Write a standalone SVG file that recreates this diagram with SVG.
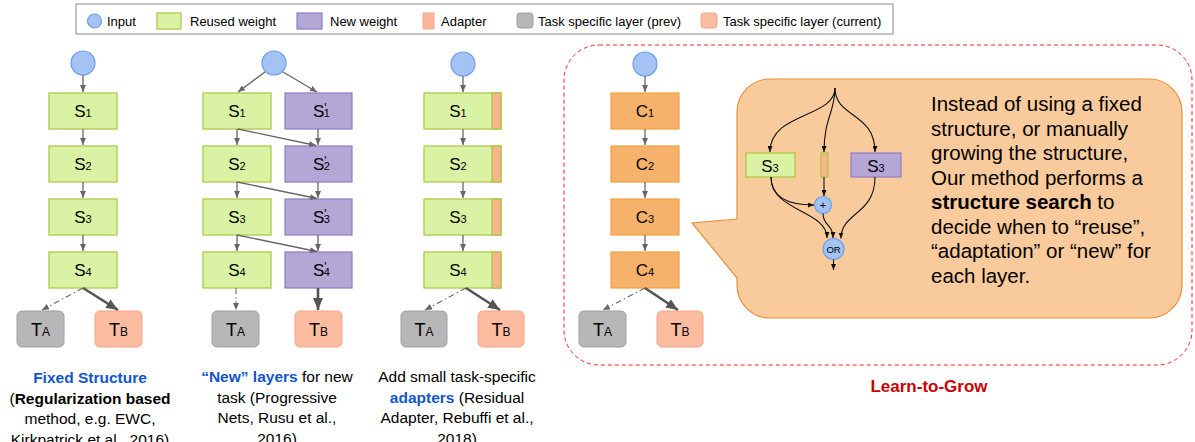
<svg xmlns="http://www.w3.org/2000/svg" width="1195" height="442" viewBox="0 0 1195 442">
  <defs>
    <style>
      text { font-family: "Liberation Sans", Arial, sans-serif; fill: #000; }
      .lg { font-size: 13px; }
      .lbl { font-size: 17px; text-anchor: middle; }
      .sub { font-size: 11px; }
      .tl { font-size: 18px; text-anchor: middle; }
      .tsub { font-size: 12px; }
      .cap { font-size: 15.5px; text-anchor: middle; }
      .blue { fill: #1155cc; font-weight: bold; }
      .b { font-weight: bold; }
      .inp { fill: #a4c2f4; stroke: #6d9eeb; stroke-width: 1.2; }
      .reuse { fill: #d9f2a3; stroke: #a8c63d; stroke-width: 1.2; }
      .neww { fill: #b4a7d6; stroke: #8e7cc3; stroke-width: 1.2; }
      .adp { fill: #f9b48e; stroke: #a8c63d; stroke-width: 1.2; }
      .prev { fill: #b7b7b7; stroke: #a0a0a0; stroke-width: 1; }
      .cur { fill: #fcbca0; stroke: #f2a48c; stroke-width: 1; }
      .grow { fill: #f6b26b; stroke: #f1a23c; stroke-width: 1.2; }
      .ar { fill: none; stroke: #666; stroke-width: 1.3; marker-end: url(#ah); }
      .ard { fill: none; stroke: #666; stroke-width: 1.1; stroke-dasharray: 6 3 1.5 3; marker-end: url(#ah); }
      .art { fill: none; stroke: #555; stroke-width: 2.6; marker-end: url(#ahb); }
      .ark { fill: none; stroke: #111; stroke-width: 1.1; marker-end: url(#ahk); }
    </style>
    <marker id="ah" markerUnits="userSpaceOnUse" markerWidth="7" markerHeight="6" refX="7" refY="3" orient="auto">
      <path d="M0,0 L7,3 L0,6 z" fill="#666"/>
    </marker>
    <marker id="ahb" markerUnits="userSpaceOnUse" markerWidth="12" markerHeight="10" refX="12" refY="5" orient="auto">
      <path d="M0,0 L12,5 L0,10 z" fill="#555"/>
    </marker>
    <marker id="ahk" markerUnits="userSpaceOnUse" markerWidth="6" markerHeight="5" refX="6" refY="2.5" orient="auto">
      <path d="M0,0 L6,2.5 L0,5 z" fill="#111"/>
    </marker>
  </defs>

  <rect width="1195" height="442" fill="#fff"/>

  <!-- Legend -->
  <g id="legend">
    <rect x="76" y="4" width="817" height="30" fill="#fff" stroke="#8a8a8a" stroke-width="1"/>
    <circle cx="94.5" cy="21" r="7" class="inp"/>
    <text x="107" y="25.5" class="lg">Input</text>
    <rect x="157" y="13" width="24" height="16" class="reuse"/>
    <text x="190" y="25.5" class="lg">Reused weight</text>
    <rect x="297" y="13" width="25" height="16" class="neww"/>
    <text x="330" y="25.5" class="lg">New weight</text>
    <rect x="423" y="13" width="11" height="16" fill="#fcb59a" stroke="#f5a88c" stroke-width="1"/>
    <text x="441" y="25.5" class="lg">Adapter</text>
    <rect x="517" y="13" width="16" height="15" rx="3" class="prev"/>
    <text x="538" y="25.5" class="lg">Task specific layer (prev)</text>
    <rect x="701" y="13" width="16" height="15" rx="3" class="cur"/>
    <text x="723" y="25.5" class="lg">Task specific layer (current)</text>
  </g>

  <!-- Learn-to-Grow frame and callout -->
  <g id="grow-frame">
    <rect x="564" y="45" width="628" height="320" rx="35" fill="none" stroke="#ff2020" stroke-width="1" stroke-dasharray="4 3"/>
    <text x="929" y="392" font-size="17px" font-weight="bold" text-anchor="middle" style="fill:#cc0000">Learn-to-Grow</text>
  </g>
  <g id="callout">
    <path d="M770,79 H1149 A33,33 0 0 1 1182,112 V285 A33,33 0 0 1 1149,318 H770 A33,33 0 0 1 737,285 V278 L692,223 L737,219 V112 A33,33 0 0 1 770,79 Z" fill="#f9cb9c" stroke="#e69138" stroke-width="1.2"/>
    <text x="931" font-size="20.5px">
      <tspan x="931" y="111">Instead of using a fixed</tspan>
      <tspan x="931" y="135.5">structure, or manually</tspan>
      <tspan x="931" y="160">growing the structure,</tspan>
      <tspan x="931" y="184.5">Our method performs a</tspan>
      <tspan x="931" y="209"><tspan class="b">structure search</tspan> to</tspan>
      <tspan x="931" y="233.5">decide when to “reuse”,</tspan>
      <tspan x="931" y="258">“adaptation” or “new” for</tspan>
      <tspan x="931" y="282.5">each layer.</tspan>
    </text>
  </g>

  <!-- Search cell inside callout -->
  <g id="search-reuse">
    <rect x="746" y="153" width="49" height="24" class="reuse"/>
    <text x="770" y="172" class="lbl">S<tspan class="sub">3</tspan></text>
  </g>
  <g id="search-adapter">
    <rect x="821" y="153" width="7" height="24" class="adp"/>
  </g>
  <g id="search-new">
    <rect x="851" y="153" width="50" height="24" class="neww"/>
    <text x="876" y="172" class="lbl">S<tspan class="sub">3</tspan></text>
  </g>
  <g id="search-plus">
    <circle cx="823" cy="205" r="8.5" class="inp"/>
    <text x="823" y="209" font-size="11px" text-anchor="middle">+</text>
  </g>
  <g id="search-or">
    <circle cx="833.5" cy="249" r="10.5" class="inp"/>
    <text x="833.5" y="252.5" font-size="9.5px" text-anchor="middle">OR</text>
  </g>

  <!-- Column 1: fixed structure -->
  <g id="c1-input"><circle cx="83" cy="63" r="12" class="inp"/></g>
  <g id="c1-s1"><rect x="49" y="93" width="68" height="36" class="reuse"/><text x="83" y="117" class="lbl">S<tspan class="sub">1</tspan></text></g>
  <g id="c1-s2"><rect x="49" y="146" width="68" height="36" class="reuse"/><text x="83" y="170" class="lbl">S<tspan class="sub">2</tspan></text></g>
  <g id="c1-s3"><rect x="49" y="199" width="68" height="36" class="reuse"/><text x="83" y="223" class="lbl">S<tspan class="sub">3</tspan></text></g>
  <g id="c1-s4"><rect x="49" y="252" width="68" height="36" class="reuse"/><text x="83" y="276" class="lbl">S<tspan class="sub">4</tspan></text></g>
  <g id="c1-ta"><rect x="17" y="311" width="47" height="36" rx="5" class="prev"/><text x="40.5" y="336" class="tl">T<tspan class="tsub">A</tspan></text></g>
  <g id="c1-tb"><rect x="95" y="311" width="47" height="36" rx="5" class="cur"/><text x="118.5" y="336" class="tl">T<tspan class="tsub">B</tspan></text></g>

  <!-- Column 2: progressive nets -->
  <g id="c2-input"><circle cx="274" cy="63" r="12" class="inp"/></g>
  <g id="c2-s1"><rect x="203" y="93" width="68" height="36" class="reuse"/><text x="237" y="117" class="lbl">S<tspan class="sub">1</tspan></text></g>
  <g id="c2-s2"><rect x="203" y="146" width="68" height="36" class="reuse"/><text x="237" y="170" class="lbl">S<tspan class="sub">2</tspan></text></g>
  <g id="c2-s3"><rect x="203" y="199" width="68" height="36" class="reuse"/><text x="237" y="223" class="lbl">S<tspan class="sub">3</tspan></text></g>
  <g id="c2-s4"><rect x="203" y="252" width="68" height="36" class="reuse"/><text x="237" y="276" class="lbl">S<tspan class="sub">4</tspan></text></g>
  <g id="c2-n1"><rect x="285" y="93" width="67" height="36" class="neww"/><text x="313" y="117" font-size="17px">S<tspan font-size="12px" dy="-5">'</tspan><tspan class="sub" dx="-3" dy="5">1</tspan></text></g>
  <g id="c2-n2"><rect x="285" y="146" width="67" height="36" class="neww"/><text x="313" y="170" font-size="17px">S<tspan font-size="12px" dy="-5">'</tspan><tspan class="sub" dx="-3" dy="5">2</tspan></text></g>
  <g id="c2-n3"><rect x="285" y="199" width="67" height="36" class="neww"/><text x="313" y="223" font-size="17px">S<tspan font-size="12px" dy="-5">'</tspan><tspan class="sub" dx="-3" dy="5">3</tspan></text></g>
  <g id="c2-n4"><rect x="285" y="252" width="67" height="36" class="neww"/><text x="313" y="276" font-size="17px">S<tspan font-size="12px" dy="-5">'</tspan><tspan class="sub" dx="-3" dy="5">4</tspan></text></g>
  <g id="c2-ta"><rect x="212" y="311" width="47" height="36" rx="5" class="prev"/><text x="235.5" y="336" class="tl">T<tspan class="tsub">A</tspan></text></g>
  <g id="c2-tb"><rect x="295" y="311" width="47" height="36" rx="5" class="cur"/><text x="318.5" y="336" class="tl">T<tspan class="tsub">B</tspan></text></g>

  <!-- Column 3: residual adapters -->
  <g id="c3-input"><circle cx="463" cy="64" r="12" class="inp"/></g>
  <g id="c3-s1"><rect x="424" y="93" width="77" height="36" class="reuse"/><rect x="492" y="93" width="9" height="36" class="adp"/><text x="458" y="117" class="lbl">S<tspan class="sub">1</tspan></text></g>
  <g id="c3-s2"><rect x="424" y="146" width="77" height="36" class="reuse"/><rect x="492" y="146" width="9" height="36" class="adp"/><text x="458" y="170" class="lbl">S<tspan class="sub">2</tspan></text></g>
  <g id="c3-s3"><rect x="424" y="199" width="77" height="36" class="reuse"/><rect x="492" y="199" width="9" height="36" class="adp"/><text x="458" y="223" class="lbl">S<tspan class="sub">3</tspan></text></g>
  <g id="c3-s4"><rect x="424" y="252" width="77" height="36" class="reuse"/><rect x="492" y="252" width="9" height="36" class="adp"/><text x="458" y="276" class="lbl">S<tspan class="sub">4</tspan></text></g>
  <g id="c3-ta"><rect x="401" y="311" width="46" height="36" rx="5" class="prev"/><text x="424" y="336" class="tl">T<tspan class="tsub">A</tspan></text></g>
  <g id="c3-tb"><rect x="478" y="311" width="46" height="36" rx="5" class="cur"/><text x="501" y="336" class="tl">T<tspan class="tsub">B</tspan></text></g>

  <!-- Column 4: learn-to-grow -->
  <g id="c4-input"><circle cx="645" cy="64" r="12" class="inp"/></g>
  <g id="c4-c1"><rect x="611" y="93" width="68" height="36" class="grow"/><text x="645" y="117" class="lbl">C<tspan class="sub">1</tspan></text></g>
  <g id="c4-c2"><rect x="611" y="146" width="68" height="36" class="grow"/><text x="645" y="170" class="lbl">C<tspan class="sub">2</tspan></text></g>
  <g id="c4-c3"><rect x="611" y="199" width="68" height="36" class="grow"/><text x="645" y="223" class="lbl">C<tspan class="sub">3</tspan></text></g>
  <g id="c4-c4"><rect x="611" y="252" width="68" height="36" class="grow"/><text x="645" y="276" class="lbl">C<tspan class="sub">4</tspan></text></g>
  <g id="c4-ta"><rect x="579" y="311" width="47" height="36" rx="5" class="prev"/><text x="602.5" y="336" class="tl">T<tspan class="tsub">A</tspan></text></g>
  <g id="c4-tb"><rect x="657" y="311" width="46" height="36" rx="5" class="cur"/><text x="680" y="336" class="tl">T<tspan class="tsub">B</tspan></text></g>

  <!-- Connectors -->
  <g id="connectors">
    <!-- column 1 -->
    <path class="ar" d="M83,75 V92"/>
    <path class="ar" d="M83,129 V145"/>
    <path class="ar" d="M83,182 V198"/>
    <path class="ar" d="M83,235 V251"/>
    <path class="ard" d="M83,288 L42,310"/>
    <path class="art" d="M83,288 L118,310"/>
    <!-- column 2 -->
    <path class="ar" d="M265,72 L238,92"/>
    <path class="ar" d="M283,72 L317,92"/>
    <path class="ar" d="M237,129 V145"/>
    <path class="ar" d="M237,182 V198"/>
    <path class="ar" d="M237,235 V251"/>
    <path class="ar" d="M318,129 V145"/>
    <path class="ar" d="M318,182 V198"/>
    <path class="ar" d="M318,235 V251"/>
    <path class="ar" d="M238,129 L316,145.5"/>
    <path class="ar" d="M237,182 L317,198.5"/>
    <path class="ar" d="M237,235 L317,251.5"/>
    <path class="ard" d="M236,288 V310"/>
    <path class="art" d="M318,288 V310"/>
    <!-- column 3 -->
    <path class="ar" d="M463,76 V92"/>
    <path class="ar" d="M463,129 V145"/>
    <path class="ar" d="M463,182 V198"/>
    <path class="ar" d="M463,235 V251"/>
    <path class="ard" d="M466,288 L425,310"/>
    <path class="art" d="M466,288 L500,310"/>
    <!-- column 4 -->
    <path class="ar" d="M645,76 V92"/>
    <path class="ar" d="M645,129 V145"/>
    <path class="ar" d="M645,182 V198"/>
    <path class="ar" d="M645,235 V251"/>
    <path class="ard" d="M645,288 L603,310"/>
    <path class="art" d="M645,288 L678,310"/>
    <!-- search cell -->
    <path class="ark" d="M835,88 C835,118 770,112 770,152"/>
    <path class="ark" d="M835,88 C835,112 824,118 824,152"/>
    <path class="ark" d="M835,88 C835,118 875,112 875,152"/>
    <path class="ark" d="M824,177 V196"/>
    <path class="ark" d="M771,177 C771,198 790,205 814,205"/>
    <path class="ark" d="M771,177 C771,212 827,210 827,238"/>
    <path class="ark" d="M823,213.5 C823,226 833,224 833,238"/>
    <path class="ark" d="M875,177 C875,215 841,212 841,238.5"/>
    <path class="ark" d="M833.5,259.5 V270"/>
  </g>

  <!-- Captions -->
  <g id="caption-fixed">
    <text class="cap" x="90" y="383"><tspan class="blue">Fixed Structure</tspan></text>
    <text class="cap" x="90" y="403.5">(<tspan class="b">Regularization based</tspan></text>
    <text class="cap" x="90" y="424">method, e.g. EWC,</text>
    <text class="cap" x="90" y="444.5">Kirkpatrick et al., 2016)</text>
  </g>
  <g id="caption-progressive">
    <text class="cap" x="277" y="382"><tspan class="blue">“New” layers</tspan> for new</text>
    <text class="cap" x="277" y="402.5">task (Progressive</text>
    <text class="cap" x="277" y="423">Nets, Rusu et al.,</text>
    <text class="cap" x="277" y="443.5">2016)</text>
  </g>
  <g id="caption-adapter">
    <text class="cap" x="457" y="382">Add small task-specific</text>
    <text class="cap" x="457" y="402.5"><tspan class="blue">adapters</tspan> (Residual</text>
    <text class="cap" x="457" y="423">Adapter, Rebuffi et al.,</text>
    <text class="cap" x="457" y="443.5">2018)</text>
  </g>
</svg>
